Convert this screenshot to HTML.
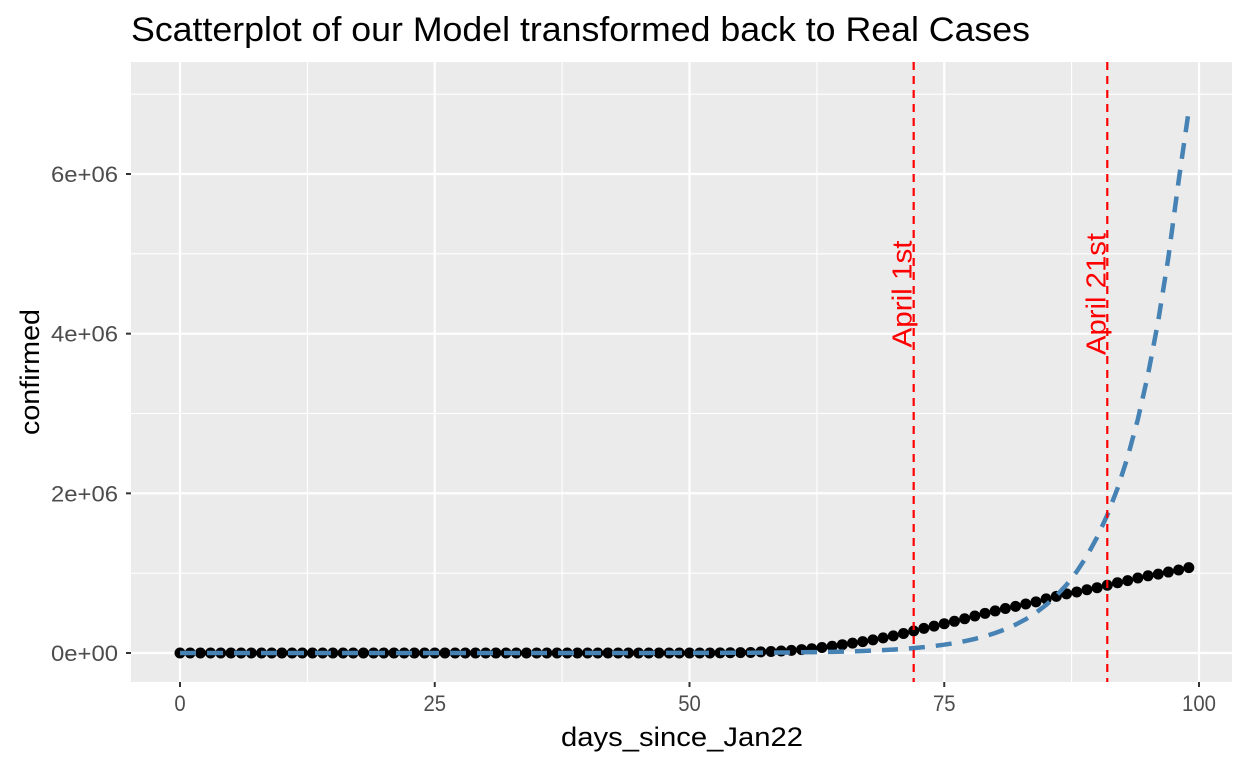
<!DOCTYPE html>
<html><head><meta charset="utf-8"><style>
html,body{margin:0;padding:0;background:#fff;}
svg{display:block;font-family:"Liberation Sans",Arial,sans-serif;}
</style></head><body>
<svg id="chart" width="1248" height="768" viewBox="0 0 1248 768" xmlns="http://www.w3.org/2000/svg">
<text x="131" y="41" font-size="34" textLength="899" lengthAdjust="spacingAndGlyphs" fill="#000">Scatterplot of our Model transformed back to Real Cases</text>
<rect x="131" y="62" width="1101" height="620" fill="#ebebeb"/>
<g id="grid"></g>
<g id="marks"></g>
<g id="axes"></g>
<text x="682" y="746" font-size="27" textLength="242" lengthAdjust="spacingAndGlyphs" text-anchor="middle" fill="#000">days_since_Jan22</text>
<text transform="translate(39,372) rotate(-90)" font-size="27" textLength="126" lengthAdjust="spacingAndGlyphs" text-anchor="middle" fill="#000">confirmed</text>
</svg>
<script>
const days = Array.from({length:100},(_,i)=>i);
const confirmed = [1,1,2,2,5,5,5,6,6,8,8,8,11,11,12,12,12,12,12,13,13,15,15,15,15,15,15,15,15,15,15,15,15,15,15,35,35,35,53,57,60,60,62,70,88,101,122,153,221,278,417,537,605,2200,2900,4600,6400,14000,19000,25000,33000,43000,53000,69000,85000,104000,124000,143000,164000,189000,214000,244000,276000,309000,337000,367000,397000,429000,463000,497000,527000,557000,584000,614000,641000,678000,710000,740000,764000,792000,818000,849000,880000,907000,940000,967000,988000,1014000,1040000,1069000];
const model = [0,0,0,0,0,0,0,0,0,0,0,0,0,0,0,0,0,0,0,0,0,0,0,0,0,0,0,0,0,0,0,0,0,0,0,0,100,100,150,200,200,250,300,350,400,500,600,700,850,1000,1200,1500,1800,2100,2500,3000,3500,4200,5000,6000,7200,8600,10300,12300,14600,17500,21000,25000,30000,36000,43000,51000,61000,73000,87000,104000,124000,148000,176000,210000,250000,298000,355000,423000,505000,602000,717000,855000,1020000,1215000,1450000,1728000,2060000,2455000,2927000,3490000,4160000,4960000,5913000,6800000];
const vlineDays = [72, 91];
const vlineLabels = ["April 1st", "April 21st"];
const xTicks = [0,25,50,75,100];
const xTickLabels = ["0","25","50","75","100"];
const yTicks = [0,2e6,4e6,6e6];
const yTickLabels = ["0e+00","2e+06","4e+06","6e+06"];
const yMinor = [1e6,3e6,5e6,7e6];
const xMinor = [-12.5,12.5,37.5,62.5,87.5];

const NS="http://www.w3.org/2000/svg";
const X0=131,X1=1232,Y0=62,Y1=682;
function sx(d){return 180+(d-0)*(1199-180)/100;}
function sy(v){return 653-v*(653-174)/6e6;}
function mk(tag,attrs,parent){const e=document.createElementNS(NS,tag);for(const k in attrs)e.setAttribute(k,attrs[k]);parent.appendChild(e);return e;}
const grid=document.getElementById('grid'),marks=document.getElementById('marks'),axes=document.getElementById('axes');

xMinor.forEach(d=>{const x=sx(d);if(x<X0)return;const l=mk('line',{x1:x,x2:x,y1:Y0,y2:Y1,stroke:'#fff','stroke-width':1.1},grid);

});
yMinor.forEach(v=>{const y=sy(v);const l=mk('line',{x1:X0,x2:X1,y1:y,y2:y,stroke:'#fff','stroke-width':1.1},grid);

});
xTicks.forEach((d,i)=>{const x=sx(d);const l=mk('line',{x1:x,x2:x,y1:Y0,y2:Y1,stroke:'#fff','stroke-width':2.2},grid);


const t=mk('line',{x1:x,x2:x,y1:Y1,y2:Y1+5,stroke:'#333','stroke-width':2},axes);


const tx=mk('text',{x:x,y:Y1+29,'font-size':22,'text-anchor':'middle',fill:'#4d4d4d',textLength:11.3*xTickLabels[i].length,lengthAdjust:'spacingAndGlyphs'},axes);tx.textContent=xTickLabels[i];

});
yTicks.forEach((v,i)=>{const y=sy(v);const l=mk('line',{x1:X0,x2:X1,y1:y,y2:y,stroke:'#fff','stroke-width':2.2},grid);


const t=mk('line',{x1:X0-5,x2:X0,y1:y,y2:y,stroke:'#333','stroke-width':2},axes);


const tx=mk('text',{x:X0-13,y:y+8,'font-size':22,'text-anchor':'end',fill:'#4d4d4d',textLength:67,lengthAdjust:'spacingAndGlyphs'},axes);tx.textContent=yTickLabels[i];

});

days.forEach((d,i)=>{const c=mk('circle',{cx:sx(d),cy:sy(confirmed[i]),r:5.5,fill:'#000'},marks);

});
const pts=days.map((d,i)=>sx(d).toFixed(2)+','+sy(model[i]).toFixed(2)).join(' ');
const pl=mk('polyline',{points:pts,fill:'none',stroke:'#4682b4','stroke-width':4.5,'stroke-dasharray':'16 11'},marks);


const labLen=[107,122];
vlineDays.forEach((d,i)=>{const x=sx(d);const l=mk('line',{x1:x,x2:x,y1:Y0,y2:Y1,stroke:'#ff0000','stroke-width':2.2,'stroke-dasharray':'8 6'},marks);


const t=mk('text',{transform:`translate(${x-2},294) rotate(-90)`,'font-size':28,'text-anchor':'middle',fill:'#ff0000',textLength:labLen[i],lengthAdjust:'spacingAndGlyphs'},marks);t.textContent=vlineLabels[i];

});
</script>
</body></html>
